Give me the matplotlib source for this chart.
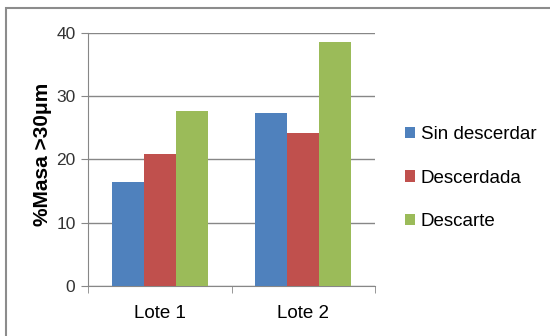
import matplotlib
matplotlib.use("Agg")
import matplotlib.pyplot as plt
from matplotlib.patches import Rectangle
import numpy as np

plt.rcParams['font.family'] = ['Liberation Sans Narrow', 'Liberation Sans', 'DejaVu Sans']

categories = ["Lote 1", "Lote 2"]
series_names = ["Sin descerdar", "Descerdada", "Descarte"]
sin_descerdar = [16.4, 27.3]
descerdada = [20.8, 24.2]
descarte = [27.6, 38.6]
colors = ["#4F81BD", "#C0504D", "#9BBB59"]

fig = plt.figure(figsize=(5.5, 3.36), dpi=100)
ax = fig.add_axes([0.16, 0.149, 0.522, 0.753])

x = np.arange(len(categories))
width = 0.223
for i, (vals, name, c) in enumerate(zip([sin_descerdar, descerdada, descarte], series_names, colors)):
    ax.bar(x + (i - 1) * width, vals, width, color=c, label=name, zorder=3)

ax.set_xlim(-0.5, 1.5)
ax.set_ylim(0, 40)
ax.set_yticks([0, 10, 20, 30, 40])
ax.yaxis.grid(True, color="#878787", linewidth=1.0, zorder=0)
ax.set_xticks(x)
ax.set_xticklabels(categories)
ax.set_xticks([-0.5, 0.5, 1.5], minor=True)
ax.tick_params(axis='x', which='major', length=0, labelsize=13.5, pad=14)
ax.tick_params(axis='x', which='minor', length=5, color="#878787", direction='out')
ax.tick_params(axis='y', length=5, color="#878787", labelsize=12.5, pad=4, labelcolor="#333333")
for s in ["top", "right"]:
    ax.spines[s].set_visible(False)
for s in ["left", "bottom"]:
    ax.spines[s].set_color("#878787")
ax.set_ylabel("%Masa >30μm", fontsize=15, fontweight='bold',
              family=['Liberation Sans', 'DejaVu Sans'])
ax.yaxis.set_label_coords(-0.125, 0.52)

leg = ax.legend(loc='upper left', bbox_to_anchor=(1.078, 0.66), frameon=False,
                fontsize=13.5, handlelength=0.55, handleheight=0.55, handletextpad=0.3,
                labelspacing=1.4, borderaxespad=0)

fig.patches.append(Rectangle((6 / 550, -0.1), 1.2, 1.1 - 8 / 336,
                             transform=fig.transFigure, fill=False,
                             edgecolor="#8c8c8c", linewidth=1.5))
fig.savefig("out.png", dpi=100)
